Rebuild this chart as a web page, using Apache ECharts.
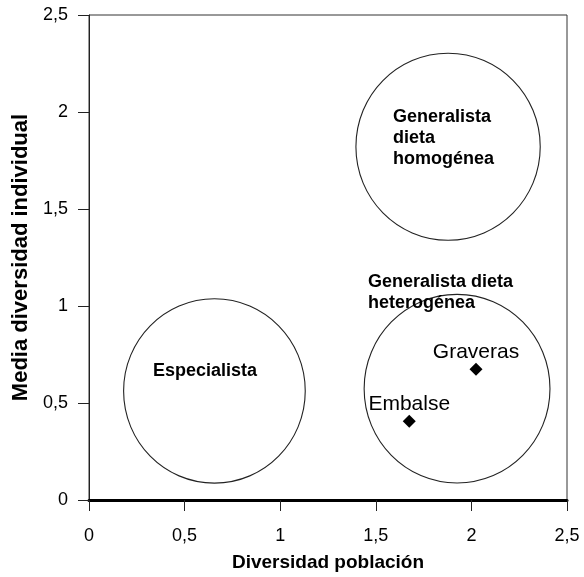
<!DOCTYPE html>
<html>
<head>
<meta charset="utf-8">
<script src="https://cdn.jsdelivr.net/npm/echarts@6/dist/echarts.min.js"></script>
<style>html,body{margin:0;padding:0;background:#fff}#c{width:584px;height:577px}</style>
</head>
<body>
<div id="c"></div>
<script>
// Data
const xTicks = [0, 0.5, 1, 1.5, 2, 2.5];
const yTicks = [0, 0.5, 1, 1.5, 2, 2.5];
const circleX = [0.656, 1.878, 1.925];
const circleY = [0.562, 1.821, 0.574];
const circleR = [0.475, 0.482, 0.486];
const regionNames = ['Especialista', 'Generalista\ndieta\nhomogénea', 'Generalista dieta\nheterogénea'];
const regionLabelX = [0.607, 1.59, 1.459];
const regionLabelY = [0.665, 1.866, 1.07];
const siteNames = ['Graveras', 'Embalse'];
const siteX = [2.024, 1.675];
const siteY = [0.674, 0.406];

const FONT = 'Liberation Sans, Arial, Helvetica, sans-serif';
const fmt = v => String(v).replace('.', ',');

const chart = echarts.init(document.getElementById('c'), null, {renderer: 'canvas'});
const regionAlign = ['center', 'left', 'left'];

chart.setOption({
  animation: false,
  backgroundColor: '#fff',
  grid: {left: 89, right: 17, top: 15, bottom: 76, show: true, borderColor: '#333', borderWidth: 1, backgroundColor: 'transparent'},
  xAxis: {
    type: 'value', min: xTicks[0], max: xTicks[xTicks.length - 1], interval: 0.5,
    name: 'Diversidad población', nameLocation: 'middle', nameGap: 53,
    nameTextStyle: {fontFamily: FONT, fontWeight: 'bold', fontSize: 19, color: '#000'},
    axisLine: {show: true, onZero: false, lineStyle: {color: '#000', width: 3}},
    axisTick: {show: true, inside: false, length: 11, lineStyle: {color: '#222', width: 1}},
    axisLabel: {formatter: fmt, fontFamily: FONT, fontSize: 18, color: '#000', margin: 27},
    splitLine: {show: false}
  },
  yAxis: {
    type: 'value', min: yTicks[0], max: yTicks[yTicks.length - 1], interval: 0.5,
    name: 'Media diversidad individual', nameLocation: 'middle', nameGap: 51,
    nameTextStyle: {fontFamily: FONT, fontWeight: 'bold', fontSize: 22, color: '#000'},
    axisLine: {show: true, onZero: false, lineStyle: {color: '#222', width: 1}},
    axisTick: {show: true, inside: false, length: 11, lineStyle: {color: '#222', width: 1}},
    axisLabel: {formatter: fmt, fontFamily: FONT, fontSize: 18, color: '#000', margin: 21},
    splitLine: {show: false}
  },
  series: [
    {
      type: 'custom',
      data: circleX.map((x, i) => [x, circleY[i], circleR[i]]),
      renderItem: function (params, api) {
        const c = api.coord([api.value(0), api.value(1)]);
        const s = api.size([api.value(2), api.value(2)]);
        return {
          type: 'ellipse',
          shape: {cx: c[0], cy: c[1], rx: s[0], ry: s[1]},
          style: {fill: 'none', stroke: '#222', lineWidth: 1.1}
        };
      },
      z: 2
    },
    {
      type: 'custom',
      data: regionLabelX.map((x, i) => [x, regionLabelY[i]]),
      renderItem: function (params, api) {
        const c = api.coord([api.value(0), api.value(1)]);
        return {
          type: 'text',
          x: c[0], y: c[1],
          style: {
            text: regionNames[params.dataIndex],
            fontFamily: FONT, fontWeight: 'bold', fontSize: 18, lineHeight: 21,
            fill: '#000', align: regionAlign[params.dataIndex], verticalAlign: 'middle'
          }
        };
      },
      z: 3
    },
    {
      type: 'scatter',
      symbol: 'diamond',
      symbolSize: 13,
      itemStyle: {color: '#000', opacity: 1},
      data: siteX.map((x, i) => ({value: [x, siteY[i]], name: siteNames[i]})),
      label: {
        show: true, position: 'top', distance: 0,
        formatter: p => p.name,
        fontFamily: FONT, fontSize: 21, color: '#000', opacity: 1, textBorderWidth: 0
      },
      z: 4
    }
  ]
});
</script>
</body>
</html>
